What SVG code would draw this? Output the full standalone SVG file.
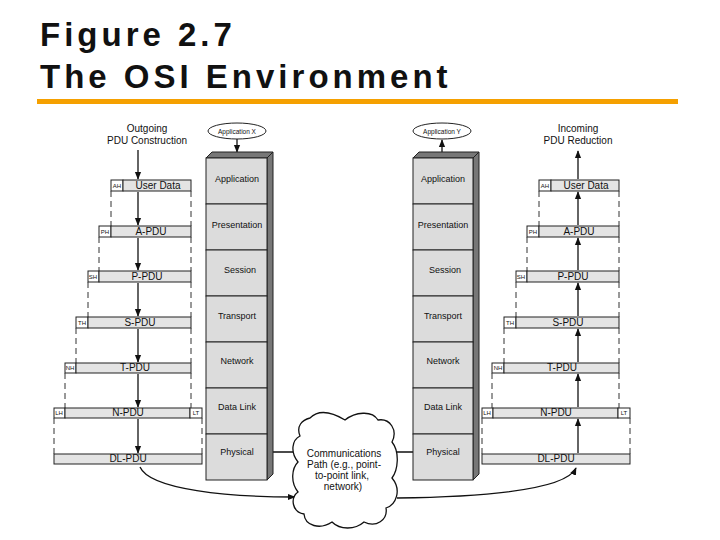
<svg xmlns="http://www.w3.org/2000/svg" width="720" height="540" viewBox="0 0 720 540">
<defs>
<style>
text{font-family:"Liberation Sans",Arial,sans-serif;fill:#111}
.t{font-size:10px;text-anchor:middle}
.h{font-size:6px;text-anchor:middle}
.title{font-size:33px;font-weight:bold;letter-spacing:4px}
.body{fill:#e4e4e4;stroke:#222;stroke-width:1}
.hd{fill:#fff;stroke:#222;stroke-width:1}
.dash{stroke:#333;stroke-width:1;stroke-dasharray:6,4;fill:none}
.ar{stroke:#111;stroke-width:1.3;fill:none;marker-end:url(#a)}
.layer{fill:#dcdcdc;stroke:#222;stroke-width:1}
.side{fill:#777;stroke:#222;stroke-width:1}
.lt{font-size:9px;text-anchor:middle}
</style>
<marker id="a" viewBox="0 0 10 10" refX="9" refY="5" markerWidth="6" markerHeight="6" orient="auto"><path d="M0,1 L10,5 L0,9 z" fill="#111"/></marker>
</defs>
<rect width="720" height="540" fill="#fff"/>
<text class="title" x="40" y="46">Figure 2.7</text>
<text class="title" x="40" y="88">The OSI Environment</text>
<rect x="37" y="99" width="641" height="5" fill="#f5a000"/>

<g id="connectors">
<path class="ar" d="M138,150V179"/><path class="ar" d="M138,192V225"/><path class="ar" d="M138,238V270"/><path class="ar" d="M138,283V316"/><path class="ar" d="M138,329V362"/><path class="ar" d="M138,374V407"/><path class="ar" d="M138,419V453"/>
<path class="ar" d="M578,179V151"/><path class="ar" d="M578,225V192"/><path class="ar" d="M578,270V238"/><path class="ar" d="M578,316V283"/><path class="ar" d="M578,362V329"/><path class="ar" d="M578,407V374"/><path class="ar" d="M578,453V419"/>
<path d="M273,452H298M391,452H413" stroke="#111" stroke-width="1.5" fill="none"/>
<path class="ar" d="M140,467 C150,490 230,497 295,497"/>
<path class="ar" d="M397,498 C470,497 565,492 576,468"/>
<path class="ar" d="M237,139V152"/>
<path class="ar" d="M442,152V140"/>
</g>

<g id="outgoing">
<text class="t" x="147" y="132">Outgoing</text>
<text class="t" x="147" y="144">PDU Construction</text>
<rect class="hd" x="111" y="180" width="12" height="11"/><rect class="body" x="123" y="180" width="68" height="11"/><text class="h" x="117" y="188">AH</text><text class="t" x="158" y="189">User Data</text>
<rect class="hd" x="99" y="226" width="12" height="11"/><rect class="body" x="111" y="226" width="80" height="11"/><text class="h" x="105" y="234">PH</text><text class="t" x="151" y="235">A-PDU</text>
<rect class="hd" x="88" y="271" width="11" height="11"/><rect class="body" x="99" y="271" width="92" height="11"/><text class="h" x="93" y="279">SH</text><text class="t" x="147" y="280">P-PDU</text>
<rect class="hd" x="76" y="317" width="12" height="11"/><rect class="body" x="88" y="317" width="103" height="11"/><text class="h" x="82" y="325">TH</text><text class="t" x="140" y="326">S-PDU</text>
<rect class="hd" x="65" y="363" width="11" height="10"/><rect class="body" x="76" y="363" width="115" height="10"/><text class="h" x="70" y="370">NH</text><text class="t" x="135" y="371">T-PDU</text>
<rect class="hd" x="54" y="408" width="11" height="10"/><rect class="body" x="65" y="408" width="125" height="10"/><rect class="hd" x="190" y="408" width="12" height="10"/><text class="h" x="59" y="415">LH</text><text class="h" x="196" y="415">LT</text><text class="t" x="128" y="416">N-PDU</text>
<rect class="body" x="54" y="454" width="148" height="10"/><text class="t" x="128" y="462">DL-PDU</text>
<path class="dash" d="M111,191V226M191,191V226M99,237V271M191,237V271M88,282V317M191,282V317M76,328V363M191,328V363M65,373V408M191,373V408M54,418V454M202,418V454"/>
</g>

<g id="incoming">
<text class="t" x="578" y="132">Incoming</text>
<text class="t" x="578" y="144">PDU Reduction</text>
<rect class="hd" x="539" y="180" width="12" height="11"/><rect class="body" x="551" y="180" width="68" height="11"/><text class="h" x="545" y="188">AH</text><text class="t" x="586" y="189">User Data</text>
<rect class="hd" x="527" y="226" width="12" height="11"/><rect class="body" x="539" y="226" width="80" height="11"/><text class="h" x="533" y="234">PH</text><text class="t" x="579" y="235">A-PDU</text>
<rect class="hd" x="516" y="271" width="11" height="11"/><rect class="body" x="527" y="271" width="92" height="11"/><text class="h" x="521" y="279">SH</text><text class="t" x="573" y="280">P-PDU</text>
<rect class="hd" x="504" y="317" width="12" height="11"/><rect class="body" x="516" y="317" width="103" height="11"/><text class="h" x="510" y="325">TH</text><text class="t" x="568" y="326">S-PDU</text>
<rect class="hd" x="492" y="363" width="12" height="10"/><rect class="body" x="504" y="363" width="115" height="10"/><text class="h" x="498" y="370">NH</text><text class="t" x="562" y="371">T-PDU</text>
<rect class="hd" x="482" y="408" width="11" height="10"/><rect class="body" x="493" y="408" width="125" height="10"/><rect class="hd" x="618" y="408" width="12" height="10"/><text class="h" x="487" y="415">LH</text><text class="h" x="624" y="415">LT</text><text class="t" x="556" y="416">N-PDU</text>
<rect class="body" x="482" y="454" width="148" height="10"/><text class="t" x="556" y="462">DL-PDU</text>
<path class="dash" d="M539,191V226M619,191V226M527,237V271M619,237V271M516,282V317M619,282V317M504,328V363M619,328V363M492,373V408M619,373V408M482,418V454M630,418V454"/>
</g>

<g id="stackX">
<ellipse cx="237" cy="131" rx="29" ry="8" fill="#fff" stroke="#222"/><text class="h" x="237" y="133.5" style="font-size:6.5px">Application X</text>
<polygon class="side" points="206,158 212,152 273,152 267,158"/>
<polygon class="side" points="267,158 273,152 273,474 267,480"/>
<rect class="layer" x="206" y="158" width="61" height="46"/><text class="lt" x="237" y="182">Application</text>
<rect class="layer" x="206" y="204" width="61" height="46"/><text class="lt" x="237" y="228">Presentation</text>
<rect class="layer" x="206" y="250" width="61" height="46"/><text class="lt" x="240" y="273">Session</text>
<rect class="layer" x="206" y="296" width="61" height="46"/><text class="lt" x="237" y="319">Transport</text>
<rect class="layer" x="206" y="342" width="61" height="46"/><text class="lt" x="237" y="364">Network</text>
<rect class="layer" x="206" y="388" width="61" height="46"/><text class="lt" x="237" y="410">Data Link</text>
<rect class="layer" x="206" y="434" width="61" height="46"/><text class="lt" x="237" y="455">Physical</text>
</g>

<g id="stackY">
<ellipse cx="442" cy="131" rx="29" ry="8" fill="#fff" stroke="#222"/><text class="h" x="442" y="133.5" style="font-size:6.5px">Application Y</text>
<polygon class="side" points="413,158 419,152 479,152 473,158"/>
<polygon class="side" points="473,158 479,152 479,474 473,480"/>
<rect class="layer" x="413" y="158" width="60" height="46"/><text class="lt" x="443" y="182">Application</text>
<rect class="layer" x="413" y="204" width="60" height="46"/><text class="lt" x="443" y="228">Presentation</text>
<rect class="layer" x="413" y="250" width="60" height="46"/><text class="lt" x="445" y="273">Session</text>
<rect class="layer" x="413" y="296" width="60" height="46"/><text class="lt" x="443" y="319">Transport</text>
<rect class="layer" x="413" y="342" width="60" height="46"/><text class="lt" x="443" y="364">Network</text>
<rect class="layer" x="413" y="388" width="60" height="46"/><text class="lt" x="443" y="410">Data Link</text>
<rect class="layer" x="413" y="434" width="60" height="46"/><text class="lt" x="443" y="455">Physical</text>
</g>

<g id="cloud">
<path d="M310,418 C320,408 335,414 345,420 C355,412 372,410 378,420 C390,418 398,430 392,442 C400,452 398,470 392,478 C402,490 396,505 386,508 C388,520 376,528 364,522 C355,530 340,530 332,522 C320,530 305,526 304,514 C292,512 290,498 298,492 C290,482 292,468 298,462 C290,452 292,440 300,436 C296,426 302,420 310,418 Z" fill="#fff" stroke="#111" stroke-width="1.3"/>
<text class="t" x="344" y="457">Communications</text>
<text class="t" x="344" y="468">Path (e.g., point-</text>
<text class="t" x="342" y="479">to-point link,</text>
<text class="t" x="343" y="490">network)</text>
</g>
</svg>
